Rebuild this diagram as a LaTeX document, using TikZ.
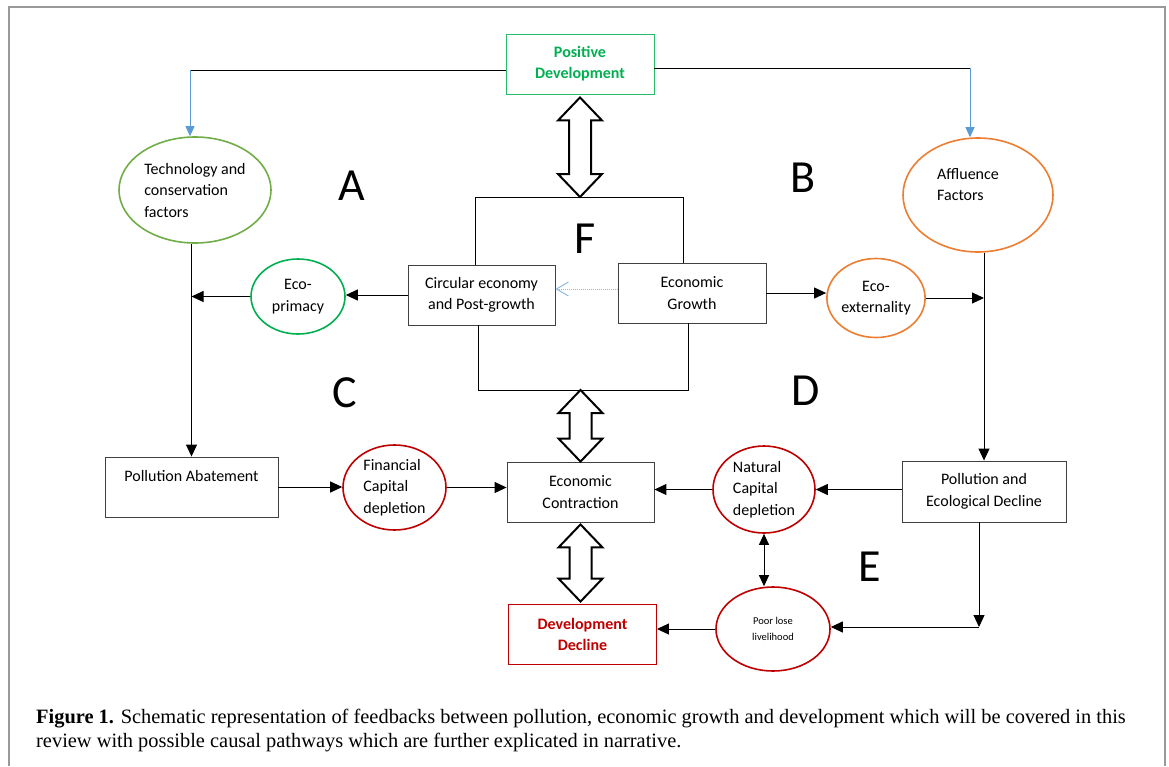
\documentclass[tikz,border=0pt]{standalone}
\usepackage{fontspec}
\setmainfont{Liberation Serif}
\newfontfamily\carlito{Carlito}
\usetikzlibrary{shapes.geometric,arrows.meta,calc}
\definecolor{posgreen}{HTML}{00B050}
\definecolor{techgreen}{HTML}{70AD47}
\definecolor{afforange}{HTML}{ED7D31}
\definecolor{declred}{HTML}{C00000}
\definecolor{linkblue}{HTML}{5B9BD5}
\definecolor{boxgray}{HTML}{404040}
\tikzset{
  box/.style={draw=boxgray, line width=0.9pt, minimum width=148pt, minimum height=60pt, align=center, inner sep=0pt},
  oval/.style={ellipse, line width=1.6pt, align=left, inner sep=0pt},
  arr/.style={-{Triangle[length=12pt,width=11pt]}, line width=1pt},
  darr/.style={{Triangle[length=11pt,width=10pt]}-{Triangle[length=11pt,width=10pt]}, line width=1pt},
  bluearr/.style={draw=linkblue, -{Triangle[length=10pt,width=9pt]}, line width=1pt},
  blockarr/.style={line width=2pt, line join=miter, fill=white},
  letter/.style={font=\carlito\fontsize{46}{50}\selectfont, inner sep=0pt},
  capline/.style={anchor=base west, inner sep=0pt, font=\fontsize{20.4}{24}\selectfont},
}
\newcommand\blockarrow[2]{%
  \draw[blockarr] let \p1=(#1), \p2=(#2) in
    (\x1,\y1) -- (\x1+22pt,\y1-23pt) -- (\x1+11pt,\y1-23pt) -- (\x1+11pt,\y2+23pt)
    -- (\x1+22pt,\y2+23pt) -- (\x1,\y2) -- (\x1-22pt,\y2+23pt) -- (\x1-11pt,\y2+23pt)
    -- (\x1-11pt,\y1-23pt) -- (\x1-22pt,\y1-23pt) -- cycle;}
\begin{document}
\begin{tikzpicture}[x=1pt, y=-1pt, font=\carlito\fontsize{16}{21.5}\selectfont]
  \useasboundingbox (0,0) rectangle (1169,766);
  \draw[gray!80, line width=2pt] (9,766) -- (9,7) -- (1165,7) -- (1165,766);

  \node[box, draw=posgreen!85, text=posgreen, font=\carlito\bfseries\fontsize{16}{21}\selectfont] (pd) at (580,64) {Positive\\Development};
  \node[oval, draw=techgreen, minimum width=152pt, minimum height=106pt] (tech) at (195,190) {Technology and\\conservation\\factors};
  \node[oval, draw=afforange, minimum width=150pt, minimum height=114pt] (affl) at (978,195) {Affluence\hspace*{20pt}\\Factors\\~};
  \node[box, minimum width=147pt] (circ) at (481.5,295) {Circular economy\\and Post-growth};
  \node[box] (grow) at (692,293) {Economic\\Growth};
  \node[oval, draw=posgreen, align=center, minimum width=94pt, minimum height=75pt] (prim) at (298,296.5) {Eco-\\primacy};
  \node[oval, draw=afforange, align=center, minimum width=94pt, minimum height=79pt] (ext) at (876,298) {Eco-\\externality};
  \node[box, minimum width=173pt] (abat) at (191.5,487) {Pollution Abatement\\~};
  \node[oval, draw=declred, minimum width=103pt, minimum height=85pt] (fin) at (394.5,487.5) {Financial\\Capital\\depletion};
  \node[box, minimum width=147pt] (contr) at (580.5,492) {Economic\\Contraction};
  \node[oval, draw=declred, minimum width=102pt, minimum height=87pt] (nat) at (764,489.5) {Natural\\Capital\\depletion};
  \node[box, minimum width=164pt, minimum height=61pt] (eco) at (984,491.5) {Pollution and\\Ecological Decline};
  \node[box, draw=declred, text=declred, font=\carlito\bfseries\fontsize{16}{21}\selectfont] (decl) at (582.5,634) {Development\\Decline};
  \node[oval, draw=declred, align=center, minimum width=114pt, minimum height=84pt, font=\carlito\fontsize{10.5}{16}\selectfont] (poor) at (773,629) {Poor lose\\livelihood};

  \node[letter] (la) at (352,186) {A};
  \node[letter] (lb) at (803,178) {B};
  \node[letter] (lc) at (345,393) {C};
  \node[letter] (ld) at (806,391) {D};
  \node[letter] (le) at (870,567) {E};
  \node[letter] (lf) at (585,239) {F};

  \coordinate (tl) at (190,70);
  \coordinate (tr) at (970,68);
  \coordinate (ftl) at (475,197);
  \coordinate (ftr) at (683,197);
  \coordinate (fbl) at (478,390);
  \coordinate (fbr) at (688,390);
  \coordinate (lj) at (abat.north |- prim.west);
  \coordinate (rj) at (eco.north |- ext.east);
  \coordinate (rb) at (979,627);

  \begin{scope}[line width=1pt]
    \draw (pd.west |- tl) -- (tl);
    \draw (pd.east |- tr) -- (tr);
    \draw[bluearr] (tl) -- (tl |- tech.north);
    \draw[bluearr] (tr) -- (tr |- affl.north);
    \draw (circ.north -| ftl) -- (ftl) -- (ftr) -- (grow.north -| ftr);
    \draw (circ.south -| fbl) -- (fbl) -- (fbr) -- (grow.south -| fbr);
    \draw[linkblue!70, dash pattern=on 1pt off 1pt, -{Straight Barb[length=12pt,width=14pt]}] ([yshift=4pt]grow.west) -- ([yshift=6pt]circ.east);
    \draw[arr] (circ.west) -- (circ.west -| prim.east);
    \draw[arr] (prim.west) -- (lj);
    \draw[arr] (tech.south -| abat.north) -- (abat.north);
    \draw[arr] (grow.east) -- (grow.east -| ext.west);
    \draw[arr] (ext.east) -- (rj);
    \draw[arr] (affl.south -| eco.north) -- (eco.north);
    \draw[arr] (abat.east) -- (abat.east -| fin.west);
    \draw[arr] (fin.east) -- (fin.east -| contr.west);
    \draw[arr] (nat.east -| eco.west) -- (nat.east);
    \draw[arr] (nat.west) -- (nat.west -| contr.east);
    \draw[darr] (nat.south) -- (nat.south |- poor.north);
    \draw[arr] (eco.south -| rb) -- (rb);
    \draw[arr] (rb) -- (rb -| poor.east);
    \draw[arr] (poor.west) -- (poor.west -| decl.east);
  \end{scope}

  \blockarrow{[yshift=-3pt]pd.south}{ftl -| pd.south}
  \blockarrow{fbl -| contr.north}{contr.north}
  \blockarrow{[yshift=-2pt]contr.south}{[yshift=2pt]decl.north}

  \node[capline] (cap1) at (36,723) {\textbf{Figure 1.} Schematic representation of feedbacks between pollution, economic growth and development which will be covered in this};
  \node[capline] (cap2) at (36,747) {review with possible causal pathways which are further explicated in narrative.};
\end{tikzpicture}
\end{document}
